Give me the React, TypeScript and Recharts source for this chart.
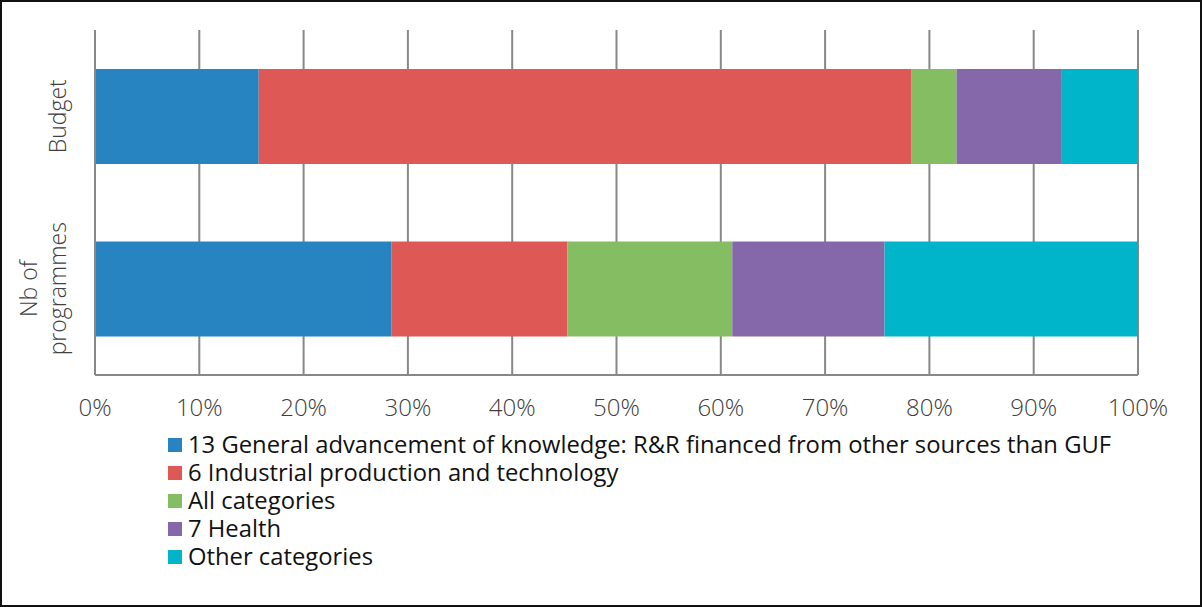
import React from 'react'
import { BarChart, Bar, XAxis, YAxis, CartesianGrid } from 'recharts'

const categories = ['Budget', 'Nb of programmes']
const generalKnowledge = [15.7, 28.4]
const industrial = [62.6, 16.9]
const allCategories = [4.3, 15.8]
const health = [10.1, 14.6]
const otherCategories = [7.3, 24.3]
const xTicks = [0, 10, 20, 30, 40, 50, 60, 70, 80, 90, 100]

const seriesList = [
    { key: 'gen', name: '13 General advancement of knowledge: R&R financed from other sources than GUF', values: generalKnowledge, color: '#2884C0' },
    { key: 'ind', name: '6 Industrial production and technology', values: industrial, color: '#DE5855' },
    { key: 'all', name: 'All categories', values: allCategories, color: '#85BE62' },
    { key: 'health', name: '7 Health', values: health, color: '#8568AA' },
    { key: 'other', name: 'Other categories', values: otherCategories, color: '#00B5CA' },
]

const data = categories.map((name, i) => {
    const row: Record<string, string | number> = { name }
    seriesList.forEach((s) => {
        row[s.key] = s.values[i]
    })
    return row
})

const FONT = '"Open Sans", "Noto Sans", sans-serif'

// rotated category label, last line's baseline sits at a fixed distance from the axis
const YTick = (props: any) => {
    const { x, y, payload } = props
    const lines = payload.value === 'Nb of programmes' ? ['Nb of', 'programmes'] : [payload.value]
    const lh = 29
    const cx = x - 21 - lh * (lines.length - 1)
    return (
        <g transform={`translate(${cx},${y}) rotate(-90)`}>
            <text textAnchor="middle" fontFamily={FONT} fontSize={23} fontWeight={300} fill="#404040">
                {lines.map((l, i) => (
                    <tspan key={i} x={0} dy={i === 0 ? 0 : lh}>
                        {l}
                    </tspan>
                ))}
            </text>
        </g>
    )
}

const LegendBox = () => (
    <div style={{ position: 'absolute', left: 166, top: 429, fontFamily: FONT, fontSize: 23.8, color: '#111' }}>
        {seriesList.map((s) => (
            <div key={s.key} style={{ display: 'flex', alignItems: 'center', height: 28, whiteSpace: 'nowrap' }}>
                <span style={{ width: 14, height: 14, background: s.color, marginRight: 6, display: 'inline-block' }} />
                <span style={{ lineHeight: 1 }}>{s.name}</span>
            </div>
        ))}
    </div>
)

export default function App() {
    return (
        <div
            style={{
                position: 'absolute',
                left: 0,
                top: 0,
                width: 1202,
                height: 607,
                boxSizing: 'border-box',
                border: '2px solid #111',
                background: '#fff',
            }}
        >
            <BarChart
                width={1198}
                height={603}
                data={data}
                layout="vertical"
                barCategoryGap="22.6%"
                margin={{ top: 28, right: 62, bottom: 200, left: 0 }}
            >
                <CartesianGrid horizontal={false} stroke="#888" strokeWidth={2} />
                <XAxis
                    type="number"
                    domain={[0, 100]}
                    ticks={xTicks}
                    tickFormatter={(v) => `${v}%`}
                    axisLine={{ stroke: '#888', strokeWidth: 2 }}
                    tickLine={false}
                    tickMargin={18}
                    tick={{ fontFamily: FONT, fontSize: 24, fontWeight: 300, fill: '#404040' }}
                    interval={0}
                />
                <YAxis
                    type="category"
                    dataKey="name"
                    width={93}
                    axisLine={{ stroke: '#888', strokeWidth: 2 }}
                    tickLine={false}
                    tick={<YTick />}
                />
                {seriesList.map((s) => (
                    <Bar key={s.key} dataKey={s.key} name={s.name} stackId="a" fill={s.color} isAnimationActive={false} />
                ))}
            </BarChart>
            <LegendBox />
        </div>
    )
}
